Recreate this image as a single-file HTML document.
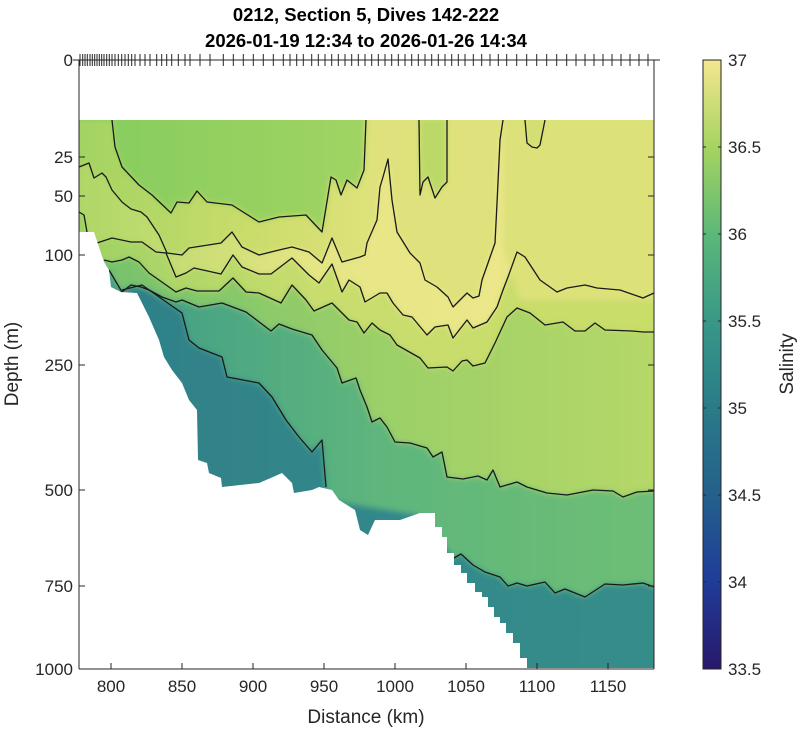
<!DOCTYPE html>
<html><head><meta charset="utf-8"><style>
html,body{margin:0;padding:0;background:#fff;}
svg{display:block;font-family:"Liberation Sans",sans-serif;}
</style></head><body>
<svg width="800" height="729" viewBox="0 0 800 729" xmlns="http://www.w3.org/2000/svg">
<defs>
<clipPath id="dc"><polygon points="79,120 654,120 654,668 527,668 527,658 520,658 520,643 513,643 513,633 506,633 506,623 500,623 500,617 494,617 494,607 488,607 488,597 482,597 482,592 475,592 475,583 467,583 467,573 461,573 461,565 454,565 454,553 447,553 447,537 442,537 442,527 435,527 435,513 420,513 400,520 375,520 368,535 360,530 355,510 339,500 332,490 319,487 312,490 294,493 292,483 282,473 273,477 266,480 259,483 222,487 221,478 209,473 207,463 198,460 197,410 189,400 182,383 172,370 164,357 159,340 149,317 137,293 121,292 111,287 109,270 104,262 94,232 79,232"/></clipPath>
<linearGradient id="g0" x1="0" x2="1" y1="0" y2="0"><stop offset="0" stop-color="#2e7f88"/><stop offset="0.6" stop-color="#33898a"/><stop offset="1" stop-color="#358d89"/></linearGradient>
<linearGradient id="g1" gradientUnits="userSpaceOnUse" x1="150" x2="620" y1="0" y2="0"><stop offset="0" stop-color="#45a085"/><stop offset="0.5" stop-color="#5fb67c"/><stop offset="1" stop-color="#6cbd75"/></linearGradient>
<linearGradient id="g2" x1="0" x2="1" y1="0" y2="0"><stop offset="0" stop-color="#72c06d"/><stop offset="0.5" stop-color="#9acf68"/><stop offset="1" stop-color="#b6d868"/></linearGradient>
<linearGradient id="g3" x1="0" x2="1" y1="0" y2="0"><stop offset="0" stop-color="#9cd163"/><stop offset="0.4" stop-color="#c8dd6e"/><stop offset="1" stop-color="#c9dd69"/></linearGradient>
<linearGradient id="g4" x1="0" x2="1" y1="0" y2="0"><stop offset="0" stop-color="#acd665"/><stop offset="0.4" stop-color="#e6e585"/><stop offset="0.7" stop-color="#ebe78a"/><stop offset="1" stop-color="#e3e37f"/></linearGradient>
<linearGradient id="g5" x1="0" x2="1" y1="0" y2="0"><stop offset="0" stop-color="#a0d362"/><stop offset="0.4" stop-color="#c9dc6a"/><stop offset="0.7" stop-color="#dfe27b"/><stop offset="1" stop-color="#dfe27b"/></linearGradient>
<linearGradient id="g6" x1="0" x2="1" y1="0" y2="0"><stop offset="0" stop-color="#85cc5f"/><stop offset="1" stop-color="#a0d462"/></linearGradient>
<linearGradient id="cb" x1="0" x2="0" y1="1" y2="0"><stop offset="0" stop-color="#29186b"/><stop offset="0.143" stop-color="#1f3c99"/><stop offset="0.286" stop-color="#24608b"/><stop offset="0.429" stop-color="#2a7b88"/><stop offset="0.571" stop-color="#389887"/><stop offset="0.714" stop-color="#5cb878"/><stop offset="0.857" stop-color="#a6d460"/><stop offset="1" stop-color="#f4e68f"/></linearGradient>
<filter id="bl" x="-5%" y="-5%" width="110%" height="110%"><feGaussianBlur stdDeviation="3"/></filter>
</defs>
<g clip-path="url(#dc)">
<g filter="url(#bl)">
<rect x="70" y="110" width="600" height="570" fill="url(#g0)"/>
<polygon fill="url(#g1)" points="70,110 670,110 670,587 654,587 643,583 623,585 605,584 585,597 565,589 555,593 545,582 527,586 517,583 508,586 500,577 485,572 473,565 461,554 454,558 440,540 420,515 326,500 326,487 322,440 312,452 299,437 286,420 272,397 259,383 227,377 222,357 199,348 189,340 182,313 142,285 122,290 70,290"/>
<polygon fill="url(#g2)" points="70,110 670,110 670,491 654,491 637,492 623,497 613,491 593,490 567,495 547,493 527,487 517,482 500,487 493,470 487,480 478,476 463,479 447,477 442,452 433,457 427,448 410,443 395,442 387,427 380,418 372,422 367,407 360,390 356,378 342,383 337,368 322,350 312,335 292,329 279,324 271,331 246,312 222,303 199,307 182,300 176,302 162,297 149,290 141,287 131,285 122,292 109,270 70,260"/>
<polygon fill="url(#g3)" points="70,110 670,110 670,332 654,332 643,332 632,331 605,330 595,323 585,331 575,331 563,322 545,325 530,313 517,308 507,317 495,343 485,363 473,366 467,360 462,361 453,371 447,367 428,368 420,358 397,345 390,335 380,330 372,323 364,333 357,322 349,320 332,303 314,311 306,300 292,285 281,303 259,293 246,292 233,278 219,291 197,291 186,288 176,292 159,280 149,273 139,262 129,257 122,260 112,262 104,260 70,255"/>
<polygon fill="url(#g4)" points="70,110 670,110 670,293 654,293 643,298 620,290 597,288 585,285 567,288 557,292 540,280 525,257 517,252 508,277 503,290 497,307 487,322 473,328 467,320 453,338 448,325 435,327 427,335 412,317 403,315 393,303 387,293 380,293 365,302 360,287 349,280 342,292 332,264 319,283 309,275 292,258 271,274 259,274 242,267 233,255 221,274 194,268 186,273 176,277 166,253 156,252 142,242 131,242 112,238 97,243 87,232 84,215 70,212"/>
<polygon fill="url(#g5)" points="70,110 503,110 503,120 500,140 497,203 495,243 488,263 482,280 479,296 473,298 467,293 453,307 448,297 437,287 425,280 420,263 410,253 397,232 392,200 388,159 383,177 380,187 377,220 367,243 365,255 360,257 342,262 332,238 322,263 309,252 292,247 279,250 259,255 242,247 232,232 221,243 189,248 182,255 167,253 159,235 147,217 141,212 131,209 122,202 112,190 106,177 102,173 94,178 89,163 70,167"/>
<polygon fill="#dde17a" points="503,110 670,110 670,300 520,300 503,250"/>
<polygon fill="url(#g6)" points="70,110 366,110 366,120 364,170 357,188 347,180 341,195 336,180 331,177 322,232 306,215 279,217 259,222 232,205 207,202 197,191 189,203 177,202 171,213 152,195 139,185 122,167 115,147 112,120 70,120"/>
<polygon fill="#bcd967" points="419,118 447,118 447,182 442,187 435,198 428,177 423,182 420,195"/>
<polygon fill="#d3df72" points="525,118 545,118 540,145 532,147 527,143"/>
</g>
<g fill="none" stroke="#1a1a1a" stroke-width="1.3" stroke-linejoin="round">
<polyline points="112,120 115,147 122,167 139,185 152,195 171,213 177,202 189,203 197,191 207,202 232,205 259,222 279,217 306,215 322,232 331,177 336,180 341,195 347,180 357,188 364,170 366,120"/>
<polyline points="79,167 89,163 94,178 102,173 106,177 112,190 122,202 131,209 141,212 147,217 159,235 167,253 182,255 189,248 221,243 232,232 242,247 259,255 279,250 292,247 309,252 322,263 332,238 342,262 360,257 365,255 367,243 377,220 380,187 383,177 388,159 392,200 397,232 410,253 420,263 425,280 437,287 448,297 453,307 467,293 473,298 479,296 482,280 488,263 495,243 497,203 500,140 503,120"/>
<polyline points="419,120 420,195 423,182 428,177 435,198 442,187 447,182 447,120"/>
<polyline points="525,120 527,143 532,147 537,148 540,145 545,120"/>
<polyline points="79,212 84,215 87,232"/>
<polyline points="97,243 112,238 131,242 142,242 156,252 166,253 176,277 186,273 194,268 221,274 233,255 242,267 259,274 271,274 292,258 309,275 319,283 332,264 342,292 349,280 360,287 365,302 380,293 387,293 393,303 403,315 412,317 427,335 435,327 448,325 453,338 467,320 473,328 487,322 497,307 503,290 508,277 517,252 525,257 540,280 557,292 567,288 585,285 597,288 620,290 643,298 654,293"/>
<polyline points="104,260 112,262 122,260 129,257 139,262 149,273 159,280 176,292 186,288 197,291 219,291 233,278 246,292 259,293 281,303 292,285 306,300 314,311 332,303 349,320 357,322 364,333 372,323 380,330 390,335 397,345 420,358 428,368 447,367 453,371 462,361 467,360 473,366 485,363 495,343 507,317 517,308 530,313 545,325 563,322 575,331 585,331 595,323 605,330 632,331 643,332 654,332"/>
<polyline points="109,270 122,292 131,285 141,287 149,290 162,297 176,302 182,300 199,307 222,303 246,312 271,331 279,324 292,329 312,335 322,350 337,368 342,383 356,378 360,390 367,407 372,422 380,418 387,427 395,442 410,443 427,448 433,457 442,452 447,477 463,479 478,476 487,480 493,470 500,487 517,482 527,487 547,493 567,495 593,490 613,491 623,497 637,492 654,491"/>
<polyline points="122,290 142,285 182,313 189,340 199,348 222,357 227,377 259,383 272,397 286,420 299,437 312,452 322,440 326,487"/>
<polyline points="454,558 461,554 473,565 485,572 500,577 508,586 517,583 527,586 545,582 555,593 565,589 585,597 605,584 623,585 643,583 654,587"/>
</g>
</g>
<g stroke="#262626" stroke-width="1" fill="none">
<line x1="79" y1="60" x2="79" y2="669"/>
<line x1="654" y1="60" x2="654" y2="669"/>
<line x1="79" y1="669" x2="654" y2="669"/>
<line x1="73" y1="60" x2="660" y2="60"/>
<path d="M111,669v-6M182,669v-6M253,669v-6M324,669v-6M395,669v-6M466,669v-6M537,669v-6M608,669v-6"/>
<path d="M79,157h6M79,196h6M79,255h6M79,365h6M79,490h6M79,586h6M79,669h6M654,157h-6M654,196h-6M654,255h-6M654,365h-6M654,490h-6M654,586h-6"/>
<path d="M80,54v12M82.7,54v12M85,54v12M87.3,54v12M90,54v12M92.3,54v12M94.7,54v12M97,54v12M99.3,54v12M101.7,54v12M104,54v12M106.7,54v12M109.3,54v12M112,54v12M115,54v12M118.3,54v12M121.7,54v12M125,54v12M128.3,54v12M131.7,54v12M135,54v12M140,54v12M145,54v12M150,54v12M156.7,54v12M161.7,54v12M166.7,54v12M171.7,54v12M178.3,54v12M185,54v12M190,54v12M200,54v12M210,54v12M223.3,54v12M233.3,54v12M243.3,54v12M253.3,54v12M263.3,54v12M273.3,54v12M283.3,54v12M290,54v12M296.7,54v12M303.3,54v12M311.7,54v12M318.3,54v12M325,54v12M331.7,54v12M338.3,54v12M345,54v12M351.7,54v12M358.3,54v12M365,54v12M371.7,54v12M378.3,54v12M385,54v12M391.7,54v12M398.3,54v12M405,54v12M411.7,54v12M418.3,54v12M425,54v12M431.7,54v12M438.3,54v12M445,54v12M451.7,54v12M458.3,54v12M465,54v12M473.3,54v12M481.7,54v12M490,54v12M498.3,54v12M506.7,54v12M516.7,54v12M526.7,54v12M536.7,54v12M546.7,54v12M556.7,54v12M566.7,54v12M576,54v12M585,54v12M594,54v12M603,54v12M612,54v12M621,54v12M630,54v12M639,54v12M648,54v12"/>
</g>
<g font-size="17" fill="#262626" text-anchor="end">
<text x="73" y="66">0</text>
<text x="73" y="163">25</text>
<text x="73" y="202">50</text>
<text x="73" y="261">100</text>
<text x="73" y="371">250</text>
<text x="73" y="496">500</text>
<text x="73" y="592">750</text>
<text x="73" y="675">1000</text>
</g>
<g font-size="17" fill="#262626" text-anchor="middle">
<text x="111" y="692">800</text>
<text x="182" y="692">850</text>
<text x="253" y="692">900</text>
<text x="324" y="692">950</text>
<text x="395" y="692">1000</text>
<text x="466" y="692">1050</text>
<text x="537" y="692">1100</text>
<text x="608" y="692">1150</text>
<text x="366" y="723" font-size="19">Distance (km)</text>
<text x="366" y="21" font-size="18.5" font-weight="bold" fill="#000">0212, Section 5, Dives 142-222</text>
<text x="366" y="47" font-size="18.5" font-weight="bold" fill="#000">2026-01-19 12:34 to 2026-01-26 14:34</text>
<text transform="translate(18,364) rotate(-90)" font-size="19">Depth (m)</text>
<text transform="translate(793,364) rotate(-90)" font-size="19">Salinity</text>
</g>
<rect x="703" y="60" width="18" height="609" fill="url(#cb)" stroke="#262626" stroke-width="1"/>
<g stroke="#262626" fill="none"><path d="M703,147h3M703,234h3M703,321h3M703,408h3M703,495h3M703,582h3M721,147h-3M721,234h-3M721,321h-3M721,408h-3M721,495h-3M721,582h-3"/></g>
<g font-size="17" fill="#262626">
<text x="728" y="66">37</text>
<text x="728" y="153">36.5</text>
<text x="728" y="240">36</text>
<text x="728" y="327">35.5</text>
<text x="728" y="414">35</text>
<text x="728" y="501">34.5</text>
<text x="728" y="588">34</text>
<text x="728" y="675">33.5</text>
</g>
</svg>
</body></html>
